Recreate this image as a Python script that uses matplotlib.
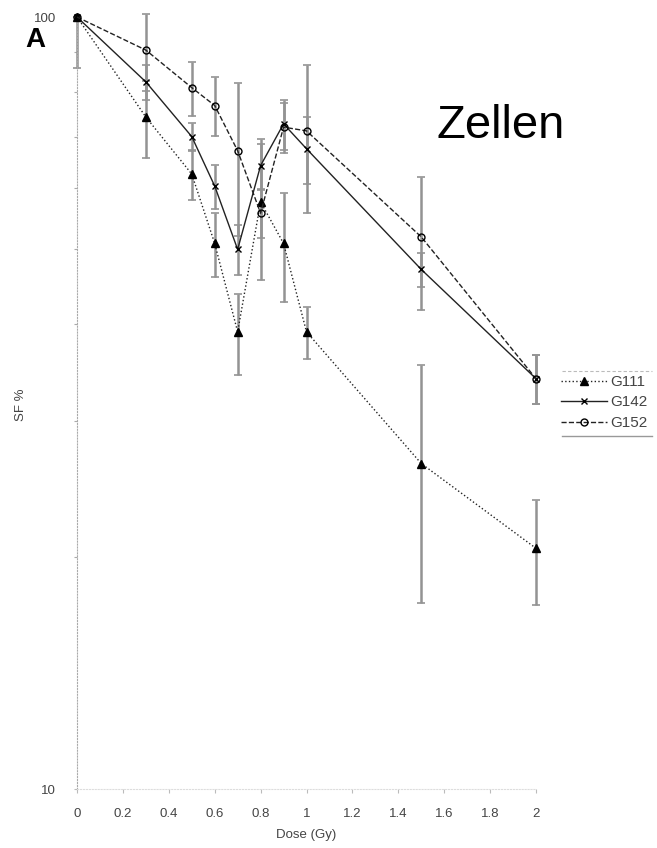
import matplotlib
matplotlib.use("Agg")
import matplotlib.pyplot as plt
from matplotlib.lines import Line2D
from matplotlib.ticker import FixedLocator, NullFormatter

plt.rcParams['font.family'] = ['Liberation Sans', 'DejaVu Sans']

# Dose (Gy)
dose = [0, 0.3, 0.5, 0.6, 0.7, 0.8, 0.9, 1.0, 1.5, 2.0]

# Surviving fraction (%) per cell line
sf_g111 = [100, 74.2, 62.6, 50.9, 39.1, 57.6, 50.9, 39.1, 26.4, 20.5]
sf_g142 = [100, 82.4, 70.0, 60.4, 50.0, 64.2, 72.7, 67.5, 47.1, 34.0]
sf_g152 = [100, 90.6, 81.0, 76.8, 67.1, 55.7, 72.0, 71.2, 51.9, 34.0]

# Standard deviations (lower / upper)
err_g111_lo = [14, 8.5, 4.6, 4.8, 4.7, 12.0, 8.2, 3.0, 9.0, 3.2]
err_g111_hi = [0, 8.5, 4.6, 4.8, 4.7, 12.0, 8.2, 3.0, 9.0, 3.2]
err_g142 = [0, 4.3, 3.0, 4.0, 3.7, 4.3, 5.4, 6.8, 2.4, 2.5]
err_g152 = [0, 10.3, 6.5, 6.7, 15.0, 4.0, 5.4, 15.5, 10.2, 2.5]

labels = ["G111", "G142", "G152"]
x_ticks = [0, 0.2, 0.4, 0.6, 0.8, 1.0, 1.2, 1.4, 1.6, 1.8, 2.0]
x_ticklabels = ["0", "0.2", "0.4", "0.6", "0.8", "1", "1.2", "1.4", "1.6", "1.8", "2"]

W, H = 657, 848
fig = plt.figure(figsize=(W / 100, H / 100), dpi=100)
ax = fig.add_axes([77 / W, 1 - 789 / H, (536 - 77) / W, (789 - 17) / H])

ax.set_yscale('log')
ax.set_xlim(0, 2.0)
ax.set_ylim(10, 100)

err_kw = dict(ecolor='#939393', elinewidth=1.8, capsize=2.8, capthick=1.2, zorder=2)

series = [
    (sf_g111, [err_g111_lo, err_g111_hi], ':', '^', 'black', labels[0], 5.5),
    (sf_g142, err_g142, '-', 'x', 'black', labels[1], 5),
    (sf_g152, err_g152, '--', 'o', 'none', labels[2], 5),
]
handles = []
for vals, errs, ls, mk, mfc, lab, ms in series:
    ax.errorbar(dose, vals, yerr=errs, fmt='none', clip_on=False, **err_kw)
    ln, = ax.plot(dose, vals, linestyle=ls, color='#222222', linewidth=1.0,
                  marker=mk, markersize=ms, markerfacecolor=mfc,
                  markeredgecolor='black', markeredgewidth=1.0,
                  clip_on=False, zorder=3, label=lab)
    handles.append(ln)

# Axes styling
for side in ('top', 'right'):
    ax.spines[side].set_visible(False)
ax.spines['left'].set_linestyle(':')
ax.spines['left'].set_color('#aaaaaa')
ax.spines['left'].set_linewidth(0.8)
ax.spines['bottom'].set_linestyle(':')
ax.spines['bottom'].set_color('#dddddd')
ax.spines['bottom'].set_linewidth(0.8)

ax.set_xticks(x_ticks)
ax.set_xticklabels(x_ticklabels)
ax.yaxis.set_major_locator(FixedLocator([10, 100]))
ax.set_yticklabels(["10", "100"])
ax.yaxis.set_minor_locator(FixedLocator([20, 30, 40, 50, 60, 70, 80, 90]))
ax.yaxis.set_minor_formatter(NullFormatter())

ax.tick_params(axis='x', which='major', length=3, width=0.8, color='#bbbbbb',
               labelsize=9.5, labelcolor='#444444', pad=11)
ax.tick_params(axis='y', which='major', length=2, width=0.8, color='#bbbbbb',
               labelsize=9.5, labelcolor='#444444', pad=13)
ax.tick_params(axis='y', which='minor', length=2, width=0.8, color='#aaaaaa')

ax.set_xlabel("Dose (Gy)", fontsize=9.5, color='#444444', labelpad=6)
ax.set_ylabel("SF %", fontsize=9.5, color='#444444')
ax.yaxis.set_label_coords(-0.11, (789 - 405) / (789 - 17))

leg = fig.legend(handles=handles, loc='upper left',
                 bbox_to_anchor=(558 / W, 1 - 372 / H), frameon=False,
                 fontsize=11, handlelength=3.0, handletextpad=0.2,
                 labelspacing=0.42, borderaxespad=0, borderpad=0.2)
for t in leg.get_texts():
    t.set_color('#444444')

# Rules above and below the legend
fig.add_artist(Line2D([562 / W, 652 / W], [1 - 371 / H] * 2, color='#bbbbbb',
                      linewidth=0.8, linestyle=(0, (3, 2))))
fig.add_artist(Line2D([562 / W, 652 / W], [1 - 436 / H] * 2, color='#999999',
                      linewidth=1.0))

fig.text(25 / W, 1 - 47 / H, "A", fontsize=20, fontweight='bold',
         ha='left', va='baseline')
fig.text(437 / W, 1 - 138 / H, "Zellen", fontsize=34,
         ha='left', va='baseline')

fig.savefig("out.png", dpi=100)
